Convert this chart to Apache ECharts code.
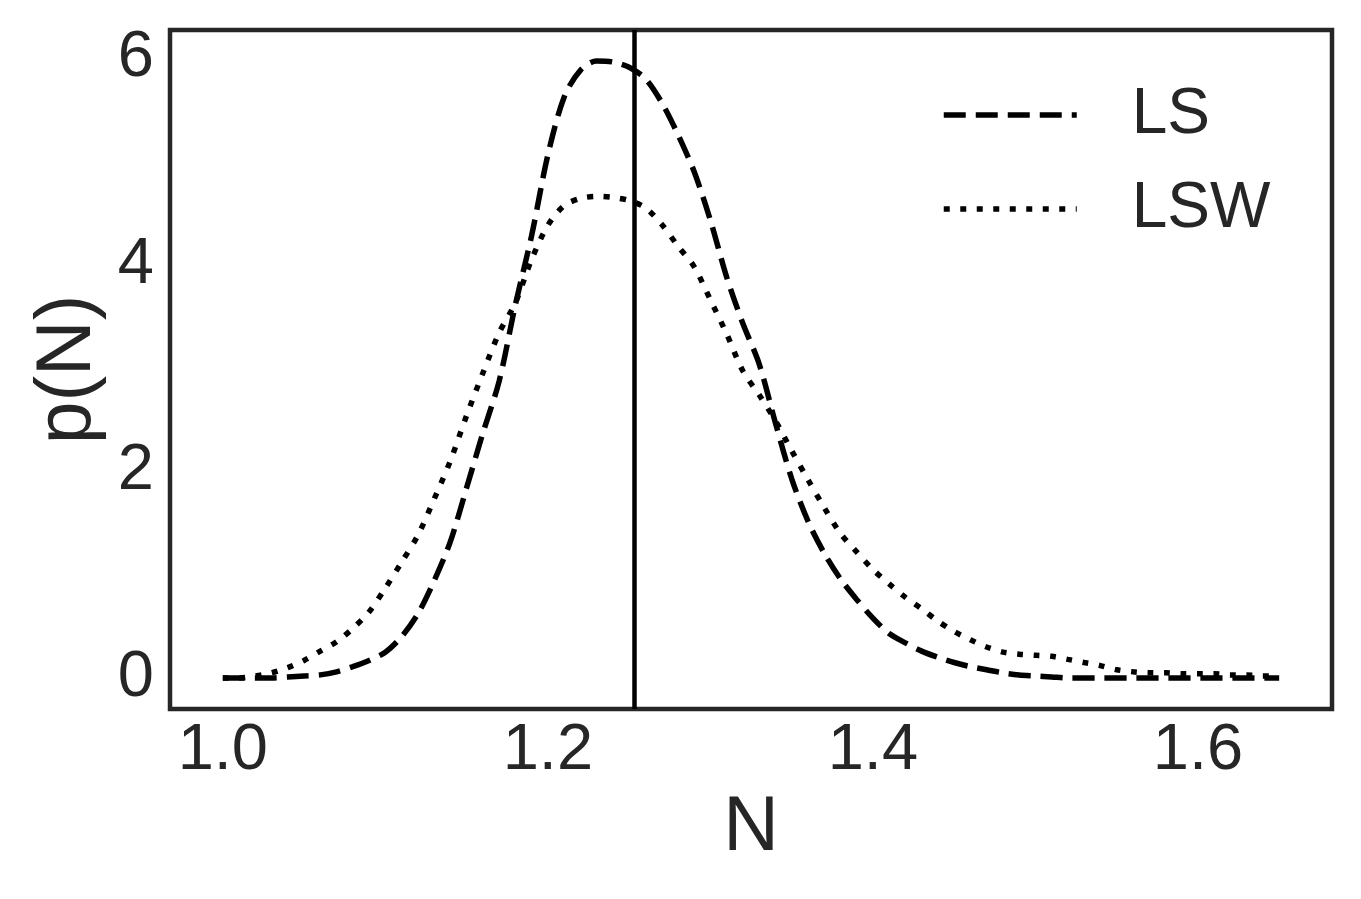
<!DOCTYPE html>
<html>
<head>
<meta charset="utf-8">
<script src="https://cdn.jsdelivr.net/npm/echarts@6/dist/echarts.min.js"></script>
<style>
  html, body { margin: 0; padding: 0; background: #fff; }
  #chart { width: 1361px; height: 899px; }
</style>
</head>
<body>
<div id="chart"></div>
<script>
// N grid, 1.00 .. 1.65 in steps of 0.01
const nValues = [
  1.00, 1.01, 1.02, 1.03, 1.04, 1.05, 1.06, 1.07, 1.08, 1.09,
  1.10, 1.11, 1.12, 1.13, 1.14, 1.15, 1.16, 1.17, 1.18, 1.19,
  1.20, 1.21, 1.22, 1.23, 1.24, 1.25, 1.26, 1.27, 1.28, 1.29,
  1.30, 1.31, 1.32, 1.33, 1.34, 1.35, 1.36, 1.37, 1.38, 1.39,
  1.40, 1.41, 1.42, 1.43, 1.44, 1.45, 1.46, 1.47, 1.48, 1.49,
  1.50, 1.51, 1.52, 1.53, 1.54, 1.55, 1.56, 1.57, 1.58, 1.59,
  1.60, 1.61, 1.62, 1.63, 1.64, 1.65
];
// p(N), LS (dashed)
const lsValues = [
  0.00, 0.00, 0.00, 0.00, 0.01, 0.02, 0.03, 0.06, 0.11, 0.17,
  0.25, 0.40, 0.62, 0.94, 1.32, 1.84, 2.37, 2.87, 3.61, 4.28,
  5.06, 5.62, 5.88, 5.97, 5.96, 5.91, 5.80, 5.57, 5.26, 4.90,
  4.43, 3.88, 3.43, 3.04, 2.47, 1.93, 1.52, 1.21, 0.96, 0.76,
  0.58, 0.43, 0.34, 0.26, 0.20, 0.15, 0.11, 0.08, 0.05, 0.03,
  0.02, 0.01, 0.00, 0.00, 0.00, 0.00, 0.00, 0.00, 0.00, 0.00,
  0.00, 0.00, 0.00, 0.00, 0.00, 0.00
];
// p(N), LSW (dotted)
const lswValues = [
  0.00, 0.00, 0.02, 0.05, 0.10, 0.17, 0.26, 0.35, 0.48, 0.64,
  0.87, 1.12, 1.38, 1.73, 2.10, 2.54, 2.95, 3.34, 3.63, 4.05,
  4.38, 4.57, 4.64, 4.66, 4.65, 4.62, 4.55, 4.39, 4.18, 3.98,
  3.66, 3.33, 2.97, 2.74, 2.49, 2.20, 1.92, 1.65, 1.40, 1.22,
  1.05, 0.91, 0.78, 0.67, 0.55, 0.45, 0.37, 0.30, 0.25, 0.23,
  0.22, 0.21, 0.18, 0.15, 0.12, 0.08, 0.06, 0.05, 0.05, 0.04,
  0.04, 0.04, 0.03, 0.03, 0.02, 0.02
];
const seriesNames = ['LS', 'LSW'];
const xTicks = [1.0, 1.2, 1.4, 1.6];
const yTicks = [0, 2, 4, 6];
const trueN = 1.253; // vertical reference line

const font = 'Liberation Sans, Arial, sans-serif';
const ink = '#262626';

const pairs = (vals) => nValues.map((n, i) => [n, vals[i]]);

const chart = echarts.init(document.getElementById('chart'));
chart.setOption({
  backgroundColor: '#fff',
  animation: false,
  grid: {
    left: 170, top: 30, width: 1162, height: 679,
    show: true, borderColor: ink, borderWidth: 4.5,
    backgroundColor: 'transparent',
  },
  legend: {
    orient: 'vertical',
    left: 941, top: 83,
    padding: 0,
    itemWidth: 133, itemHeight: 20,
    itemGap: 30,
    data: seriesNames,
    lineStyle: { width: 5.5 },
    itemStyle: { opacity: 0, borderWidth: 0 },
    textStyle: {
      fontFamily: font, fontSize: 64, color: ink, lineHeight: 64,
      padding: [0, 0, 0, 50],
    },
  },
  xAxis: {
    type: 'value',
    min: 0.9675, max: 1.6825,
    name: 'N', nameLocation: 'middle', nameGap: 81,
    nameTextStyle: { fontFamily: font, fontSize: 77, color: ink },
    axisLine: { show: false },
    axisTick: { show: false },
    splitLine: { show: false },
    axisLabel: {
      customValues: xTicks,
      formatter: (v) => v.toFixed(1),
      fontFamily: font, fontSize: 65, color: ink, margin: 10,
    },
  },
  yAxis: {
    type: 'value',
    min: -0.3, max: 6.27,
    name: 'p(N)', nameLocation: 'middle', nameGap: 62,
    nameTextStyle: { fontFamily: font, fontSize: 77, color: ink },
    axisLine: { show: false },
    axisTick: { show: false },
    splitLine: { show: false },
    axisLabel: {
      customValues: yTicks,
      fontFamily: font, fontSize: 65, color: ink, margin: 16,
    },
  },
  series: [
    {
      name: seriesNames[0],
      type: 'line',
      data: pairs(lsValues),
      smooth: 0.3,
      showSymbol: false,
      symbol: 'none',
      color: '#000',
      lineStyle: { color: '#000', width: 5.5, type: [22, 10], cap: 'butt' },
      markLine: {
        silent: true,
        symbol: 'none',
        precision: 3,
        label: { show: false },
        lineStyle: { color: '#000', width: 4.5, type: 'solid' },
        data: [{ xAxis: trueN }],
      },
      z: 3,
    },
    {
      name: seriesNames[1],
      type: 'line',
      data: pairs(lswValues),
      smooth: 0.3,
      showSymbol: false,
      symbol: 'none',
      color: '#000',
      lineStyle: { color: '#000', width: 5.5, type: [6, 10.5], cap: 'butt' },
      z: 3,
    },
  ],
});
</script>
</body>
</html>
